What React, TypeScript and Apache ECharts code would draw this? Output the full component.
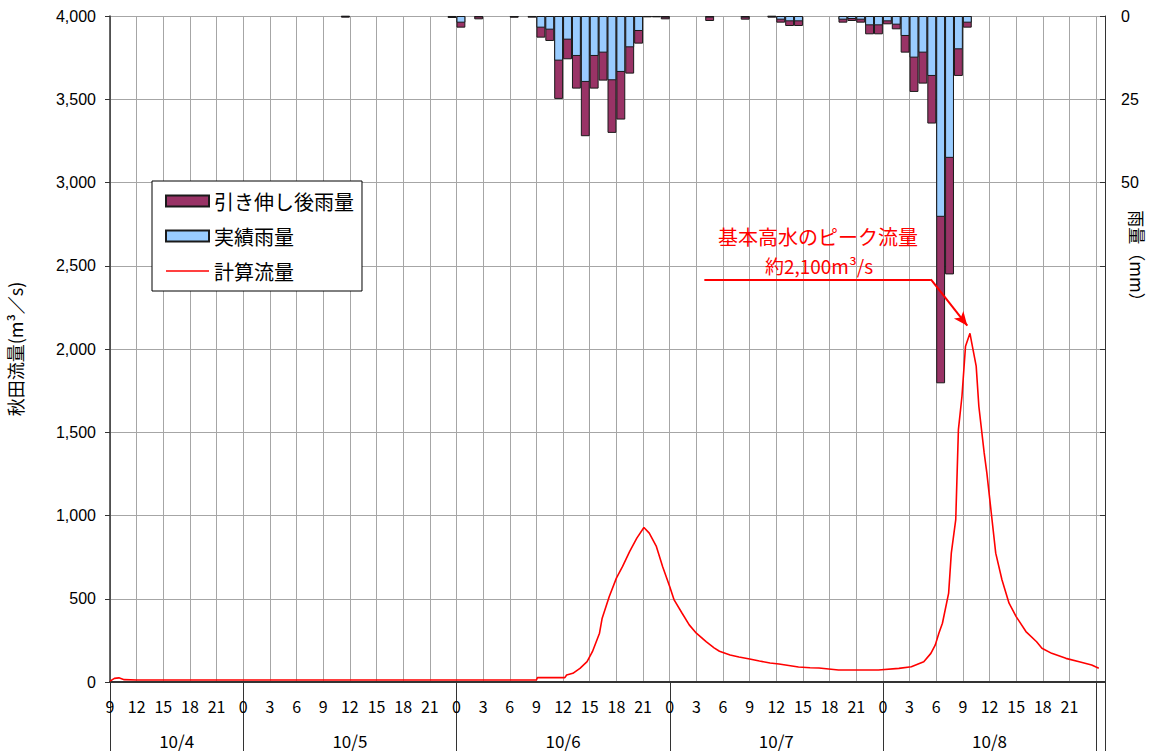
import React, { useEffect, useRef } from 'react';
import * as echarts from 'echarts';

// Hours counted from 10/4 0:00; rain bars cover [h, h+1]
const rainHours = [35, 47, 48, 50, 54, 56, 57, 58, 59, 60, 61, 62, 63, 64, 65, 66, 67, 68, 69, 70, 71, 76, 80, 83, 84, 85, 86, 91, 92, 93, 94, 95, 96, 97, 98, 99, 100, 101, 102, 103, 104, 105];
const observedRain = [0.2, 0.3, 2.0, 0.4, 0.4, 0.3, 3.5, 4.1, 13.4, 7.1, 12.0, 19.8, 12.0, 11.0, 19.3, 16.8, 9.4, 4.5, 0.3, 0.3, 0.5, 0.5, 0.5, 0.2, 1.1, 1.6, 1.6, 1.1, 0.9, 1.1, 2.8, 2.8, 1.6, 2.6, 6.0, 12.5, 11.0, 18.0, 60.3, 42.6, 10.0, 2.0];
const stretchedRain = [0.5, 0.6, 3.5, 1.0, 0.5, 0.5, 6.5, 7.5, 24.9, 13.0, 21.8, 36.1, 21.8, 19.4, 35.1, 31.1, 17.3, 8.3, 0.4, 0.4, 1.0, 1.5, 1.1, 0.5, 2.0, 3.0, 3.0, 2.0, 1.5, 2.0, 5.5, 5.5, 2.5, 4.0, 11.0, 22.8, 20.3, 32.3, 110.3, 77.6, 18.0, 3.5];

const flowHours = [9, 9.5, 10, 10.6, 12, 57, 57.1, 60.2, 60.4, 61.1, 61.9, 62.7, 63.3, 64.1, 64.4, 65.2, 66.0, 66.7, 67.5, 68.3, 69.1, 69.7, 70.5, 71.2, 72.0, 72.5, 73.4, 74.2, 75.0, 76.1, 77.0, 77.6, 78.8, 79.8, 81.0, 82.1, 83.3, 84.3, 86.5, 87.8, 88.8, 91.0, 93.3, 95.5, 97.8, 99.2, 100.6, 101.4, 101.9, 102.3, 102.7, 103.4, 103.7, 104.2, 104.5, 104.9, 105.3, 105.8, 106.0, 106.5, 106.8, 107.4, 107.7, 108.2, 108.7, 109.4, 110.2, 111.0, 112.1, 113.3, 113.9, 115.0, 116.6, 118.1, 119.5, 120.3];
const flowValues = [5, 22, 25, 14, 12, 12, 26, 26, 42, 52, 82, 122, 182, 293, 383, 513, 624, 694, 784, 864, 928, 894, 814, 694, 573, 493, 413, 343, 293, 242, 205, 185, 162, 150, 138, 126, 114, 108, 90, 86, 84, 72, 72, 72, 82, 92, 122, 172, 223, 293, 353, 534, 774, 975, 1516, 1716, 2017, 2094, 2037, 1897, 1656, 1376, 1256, 1015, 774, 614, 473, 393, 303, 242, 203, 172, 142, 122, 102, 82];

const dateLabels = ['10/4', '10/5', '10/6', '10/7', '10/8'];
const dateCenters = [16.5, 36, 60, 84, 108];
const dayBoundaries = [9, 24, 48, 72, 96, 120, 121];

const xMin = 9;
const xMax = 121;

const annotationTitle = '基本高水のピーク流量';
const annotationValue = '約2,100m³/s';
const calloutLevel = 2418;
const calloutStart = 75.9;
const calloutBend = 101.4;
const calloutTip: [number, number] = [105.5, 2140];

const JP = '"Noto Sans CJK JP", "Noto Sans", sans-serif';
const SANS = '"Liberation Sans", Arial, sans-serif';

export default function App() {
  const ref = useRef<HTMLDivElement>(null);

  useEffect(() => {
    if (!ref.current) return;
    const chart = echarts.init(ref.current, undefined, { renderer: 'svg' });

    const gridLeft = 110;
    const gridRight = 53;
    const gridWidth = 1158 - gridLeft - gridRight;
    const barW = gridWidth / (xMax - xMin);

    const stretchedData = rainHours.map((h, i) => [h + 0.5, stretchedRain[i]]);
    const observedData = rainHours.map((h, i) => [h + 0.5, observedRain[i]]);
    const flowData = flowHours.map((h, i) => [h, flowValues[i]]);

    const option: any = {
      animation: false,
      backgroundColor: '#ffffff',
      textStyle: { fontFamily: JP },
      grid: {
        left: gridLeft,
        right: gridRight,
        top: 16,
        bottom: 69,
        containLabel: false,
        outerBoundsMode: 'none',
      },
      legend: {
        orient: 'vertical',
        left: 152,
        top: 181,
        padding: [10, 8, 10, 13],
        itemGap: 15,
        itemWidth: 43,
        itemHeight: 11,
        itemTextGap: 7,
        borderColor: '#000',
        borderWidth: 1,
        backgroundColor: '#fff',
        selectedMode: false,
        textStyle: { fontFamily: JP, fontSize: 20, color: '#000' },
        data: [
          { name: '引き伸し後雨量', icon: 'rect' },
          { name: '実績雨量', icon: 'rect' },
          {
            name: '計算流量',
            icon: 'line',
            itemStyle: { color: '#ff0000', borderColor: '#ff0000', borderWidth: 1.6 },
          },
        ],
      },
      xAxis: [
        {
          type: 'value',
          min: xMin,
          max: xMax,
          interval: 3,
          position: 'bottom',
          axisLine: { show: true, lineStyle: { color: '#333', width: 2 } },
          axisTick: { show: false },
          axisLabel: {
            margin: 16,
            fontFamily: JP,
            fontSize: 16,
            color: '#000',
            formatter: (v: number) => (v >= 120 ? '' : String(v % 24)),
          },
          splitLine: { show: true, lineStyle: { color: '#a6a6a6', width: 1 } },
        },
      ],
      yAxis: [
        {
          type: 'value',
          min: 0,
          max: 4000,
          interval: 500,
          position: 'left',
          name: '秋田流量(m³／s)',
          nameLocation: 'middle',
          nameRotate: 90,
          nameGap: 86,
          nameTextStyle: { fontFamily: JP, fontSize: 18, color: '#000' },
          axisLine: { show: true, lineStyle: { color: '#333', width: 1.5 } },
          axisTick: { show: true, inside: false, length: 5, lineStyle: { color: '#333' } },
          axisLabel: {
            margin: 14,
            fontFamily: SANS,
            fontSize: 16,
            color: '#000',
            formatter: (v: number) => v.toLocaleString('en-US'),
          },
          splitLine: { show: true, lineStyle: { color: '#a6a6a6', width: 1 } },
        },
        {
          type: 'value',
          min: 0,
          max: 200,
          interval: 25,
          inverse: true,
          position: 'right',
          axisLine: { show: true, lineStyle: { color: '#333', width: 1 } },
          axisTick: { show: true, inside: true, length: 5, lineStyle: { color: '#333' } },
          axisLabel: {
            margin: 16,
            fontFamily: SANS,
            fontSize: 16,
            color: '#000',
            formatter: (v: number) => (v <= 50 ? String(v) : ''),
          },
          splitLine: { show: false },
        },
      ],
      series: [
        {
          name: '引き伸し後雨量',
          type: 'bar',
          xAxisIndex: 0,
          yAxisIndex: 1,
          barWidth: barW,
          barGap: '-100%',
          itemStyle: { color: '#993366', borderColor: '#1a1a1a', borderWidth: 1 },
          data: stretchedData,
          z: 3,
        },
        {
          name: '実績雨量',
          type: 'bar',
          xAxisIndex: 0,
          yAxisIndex: 1,
          barWidth: barW,
          barGap: '-100%',
          itemStyle: { color: '#99ccff', borderColor: '#1a1a1a', borderWidth: 1 },
          data: observedData,
          z: 4,
        },
        {
          name: '計算流量',
          type: 'line',
          xAxisIndex: 0,
          yAxisIndex: 0,
          symbol: 'none',
          showSymbol: false,
          lineStyle: { color: '#ff0000', width: 1.6 },
          itemStyle: { color: '#ff0000' },
          data: flowData,
          z: 5,
          markLine: {
            silent: true,
            symbol: ['none', 'none'],
            label: { show: false },
            lineStyle: { color: '#ff0000', width: 2, type: 'solid' },
            emphasis: { disabled: true },
            data: [
              [
                { coord: [calloutStart, calloutLevel], symbol: 'none' },
                { coord: [calloutBend, calloutLevel], symbol: 'none' },
              ],
              [
                { coord: [calloutBend, calloutLevel], symbol: 'none' },
                { coord: calloutTip, symbol: 'arrow', symbolSize: [9, 14] },
              ],
            ],
          },
        },
      ],
    };

    chart.setOption(option);

    const yBase = chart.convertToPixel({ yAxisIndex: 0 }, 0) as number;
    const H = chart.getHeight();

    const separators = dayBoundaries.map((h, i) => {
      const x = Math.round(chart.convertToPixel({ xAxisIndex: 0 }, h) as number) + 0.5;
      return {
        type: 'line',
        id: 'sep' + i,
        shape: { x1: x, y1: yBase, x2: x, y2: H },
        style: { stroke: '#333', lineWidth: 1 },
        silent: true,
      };
    });

    const dates = dateCenters.map((h, i) => ({
      type: 'text',
      id: 'date' + i,
      x: chart.convertToPixel({ xAxisIndex: 0 }, h) as number,
      y: 740,
      style: {
        text: dateLabels[i],
        fill: '#000',
        font: `17px ${JP}`,
        textAlign: 'center',
        textVerticalAlign: 'middle',
      },
      silent: true,
    }));

    chart.setOption({
      graphic: [
        ...separators,
        ...dates,
        {
          type: 'text',
          id: 'annTitle',
          x: 818,
          y: 236,
          style: {
            text: annotationTitle,
            fill: '#ff0000',
            font: `20px ${JP}`,
            textAlign: 'center',
            textVerticalAlign: 'middle',
          },
          z: 10,
        },
        {
          type: 'text',
          id: 'annValue',
          x: 819,
          y: 265,
          style: {
            text: annotationValue,
            fill: '#ff0000',
            font: `19px ${JP}`,
            textAlign: 'center',
            textVerticalAlign: 'middle',
          },
          z: 10,
        },
        {
          type: 'text',
          id: 'rainName',
          x: 1137,
          y: 260,
          rotation: -Math.PI / 2,
          style: {
            text: '雨量（mm）',
            fill: '#000',
            font: `17px ${JP}`,
            textAlign: 'center',
            textVerticalAlign: 'middle',
          },
        },
      ],
    });

    return () => chart.dispose();
  }, []);

  return (
    <div
      ref={ref}
      style={{ position: 'fixed', left: 0, top: 0, width: 1158, height: 751, background: '#fff' }}
    />
  );
}
